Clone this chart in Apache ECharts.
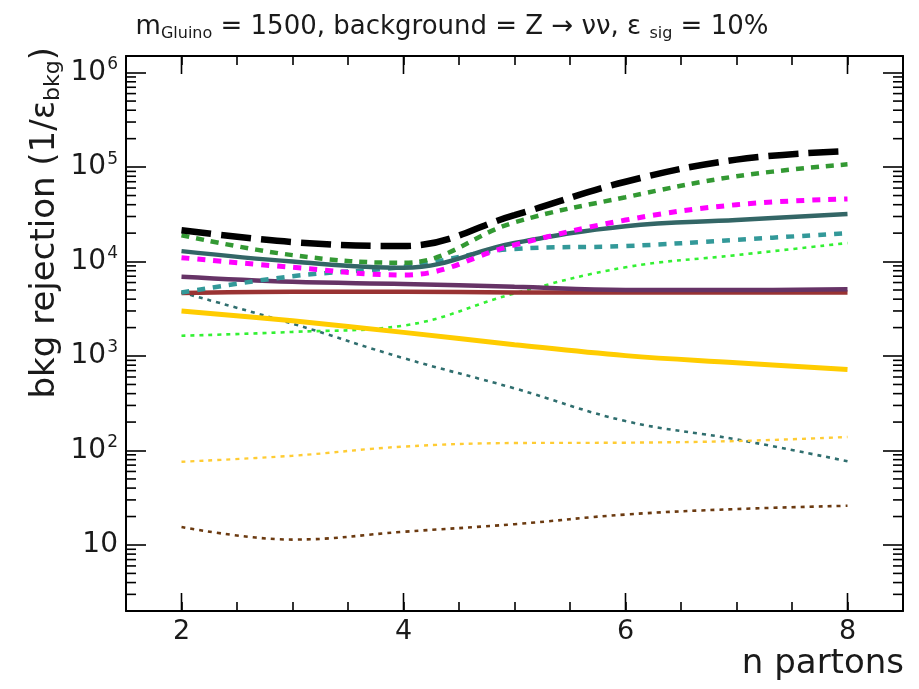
<!DOCTYPE html>
<html><head><meta charset="utf-8">
<script src="https://cdn.jsdelivr.net/npm/echarts@6/dist/echarts.min.js"></script>
<style>html,body{margin:0;padding:0;background:#fff}#c{width:919px;height:689px}</style>
</head><body><div id="c"></div>
<script>
// ---- data ----
const nPartons = [2, 3, 4, 5, 6, 7, 8];
const sBlackDash   = [21500, 16100, 14600, 31000, 70000, 120000, 148000];
const sGreenDash   = [19000, 11700, 9700, 26000, 48000, 80000, 107000];
const sMagentaDash = [11000, 8700, 7200, 15000, 27500, 40000, 46000];
const sTealSolid   = [12900, 10000, 8600, 15700, 23700, 27500, 31800];
const sTealDash    = [4700, 7000, 8800, 13600, 14600, 17000, 20000];
const sLimeDot     = [1640, 1800, 2100, 4600, 8700, 11700, 15700];
const sPurple      = [6900, 6100, 5800, 5400, 5000, 5000, 5100];
const sRed         = [4650, 4800, 4800, 4700, 4700, 4700, 4700];
const sGold        = [3000, 2360, 1780, 1320, 1010, 850, 720];
const sTealDot     = [4700, 2200, 950, 455, 205, 131, 77];
const sOrangeDot   = [76, 88, 110, 120, 121, 126, 139];
const sBrownDot    = [15.5, 11.4, 13.8, 16.6, 21, 24, 26];

const xMajorTicks = [2, 4, 6, 8];
const X_MIN = 1.5, X_MAX = 8.5, Y_MIN = 2, Y_MAX = 1.5e6;
const yMinorTicks = [];
[1, 10, 100, 1000, 10000, 100000, 1000000].forEach(d => {
  [2, 3, 4, 5, 6, 7, 8, 9].forEach(m => { const v = m * d; if (v > Y_MIN && v < Y_MAX) yMinorTicks.push(v); });
});

const FONT = '"DejaVu Sans", Verdana, sans-serif';
const TXT = '#1a1a1a';
const chart = echarts.init(document.getElementById('c'), null, {renderer: 'canvas'});

function mk(name, data, color, width, type, z) {
  return {
    name, type: 'line', data: nPartons.map((x, i) => [x, data[i]]),
    smooth: 0.4, showSymbol: false, symbol: 'none', z: z || 2,
    lineStyle: {color, width, type, cap: 'butt'}
  };
}

const axisCommon = {
  axisLine: {show: true, onZero: false, lineStyle: {color: '#000', width: 2}},
  splitLine: {show: false}
};

const option = {
  animation: false,
  backgroundColor: '#fff',
  grid: {left: 126, right: 16, top: 56, bottom: 78, containLabel: false},
  xAxis: [
    Object.assign({
      type: 'value', min: X_MIN, max: X_MAX, interval: 0.5, position: 'bottom',
      axisTick: {show: true, inside: true, length: 9, lineStyle: {color: '#000', width: 1.6}},
      axisLabel: {
        show: true, margin: 7, color: TXT, fontSize: 27, fontFamily: FONT,
        formatter: v => (Math.abs(v % 2) < 1e-9 ? String(v) : '')
      }
    }, axisCommon),
    Object.assign({
      type: 'value', min: X_MIN, max: X_MAX, interval: 0.5, position: 'top',
      axisTick: {show: true, inside: true, length: 9, lineStyle: {color: '#000', width: 1.6}},
      axisLabel: {show: false}
    }, axisCommon)
  ],
  yAxis: [
    Object.assign({
      type: 'log', logBase: 10, min: Y_MIN, max: Y_MAX, position: 'left',
      axisTick: {show: true, inside: true, length: 20, lineStyle: {color: '#000', width: 1.6}},
      axisLabel: {
        show: true, margin: 8, showMinLabel: false, showMaxLabel: false,
        color: TXT, fontFamily: FONT,
        formatter: v => {
          const e = Math.round(Math.log10(v));
          return e === 1 ? '{b|10}' : '{b|10}{s|' + e + '}';
        },
        rich: {
          b: {fontSize: 28, fontFamily: FONT, color: TXT},
          s: {fontSize: 17, fontFamily: FONT, color: TXT, padding: [0, 0, 16, 1]}
        }
      }
    }, axisCommon),
    Object.assign({
      type: 'log', logBase: 10, min: Y_MIN, max: Y_MAX, position: 'right',
      axisTick: {show: true, inside: true, length: 20, lineStyle: {color: '#000', width: 1.6}},
      axisLabel: {show: false}
    }, axisCommon)
  ],
  series: [
    mk('tealDot', sTealDot, '#2f6e6e', 2.6, [4, 5], 2),
    mk('orangeDot', sOrangeDot, '#ffcc33', 2.4, [4, 5], 2),
    mk('brownDot', sBrownDot, '#6b3a10', 2.6, [4, 5], 2),
    mk('limeDot', sLimeDot, '#33f033', 2.6, [4, 5], 2),
    mk('gold', sGold, '#ffcc00', 5, 'solid', 3),
    mk('red', sRed, '#993333', 4.5, 'solid', 3),
    mk('purple', sPurple, '#663366', 4.5, 'solid', 3),
    mk('tealDash', sTealDash, '#339999', 4.5, [8, 8], 4),
    mk('tealSolid', sTealSolid, '#336666', 4.5, 'solid', 4),
    mk('magenta', sMagentaDash, '#ff00ff', 5, [8, 8], 4),
    mk('green', sGreenDash, '#339933', 4.5, [8, 7], 5),
    mk('black', sBlackDash, '#000000', 6.5, [30, 10], 6),
    {
      type: 'custom', silent: true, z: 10, clip: false,
      data: yMinorTicks.map(v => [X_MIN, v]),
      renderItem: (params, api) => {
        const v = api.value(1);
        const p1 = api.coord([X_MIN, v]);
        const p2 = api.coord([X_MAX, v]);
        const st = {stroke: '#000', lineWidth: 1.6};
        return {type: 'group', children: [
          {type: 'line', shape: {x1: p1[0], y1: p1[1], x2: p1[0] + 10, y2: p1[1]}, style: st},
          {type: 'line', shape: {x1: p2[0] - 10, y1: p2[1], x2: p2[0], y2: p2[1]}, style: st}
        ]};
      }
    },
    {
      type: 'custom', silent: true, z: 10, clip: false,
      data: xMajorTicks.map(v => [v, Y_MIN]),
      renderItem: (params, api) => {
        const v = api.value(0);
        const p1 = api.coord([v, Y_MIN]);
        const p2 = api.coord([v, Y_MAX]);
        const st = {stroke: '#000', lineWidth: 1.6};
        return {type: 'group', children: [
          {type: 'line', shape: {x1: p1[0], y1: p1[1], x2: p1[0], y2: p1[1] - 18}, style: st},
          {type: 'line', shape: {x1: p2[0], y1: p2[1], x2: p2[0], y2: p2[1] + 18}, style: st}
        ]};
      }
    }
  ],
  graphic: [
    {
      type: 'text', x: 452, y: 27, z: 100,
      style: {
        text: 'm{sub|Gluino} = 1500, background = Z \u2192 \u03bd\u03bd, \u03b5 {sub|sig} = 10%',
        align: 'center', verticalAlign: 'middle', fill: TXT,
        fontSize: 26, fontFamily: FONT,
        rich: {sub: {fontSize: 16, fontFamily: FONT, fill: TXT, padding: [13, 0, 0, 0]}}
      }
    },
    {
      type: 'text', x: 45, y: 47, rotation: Math.PI / 2, z: 100,
      style: {
        text: 'bkg rejection (1/\u03b5{sub|bkg})',
        align: 'right', verticalAlign: 'middle', fill: TXT,
        fontSize: 34, fontFamily: FONT,
        rich: {sub: {fontSize: 22, fontFamily: FONT, fill: TXT, padding: [16, 0, 0, 0]}}
      }
    },
    {
      type: 'text', x: 904, y: 664, z: 100,
      style: {
        text: 'n partons', align: 'right', verticalAlign: 'middle', fill: TXT,
        fontSize: 34, fontFamily: FONT
      }
    }
  ]
};
chart.setOption(option);
</script>
</body></html>
